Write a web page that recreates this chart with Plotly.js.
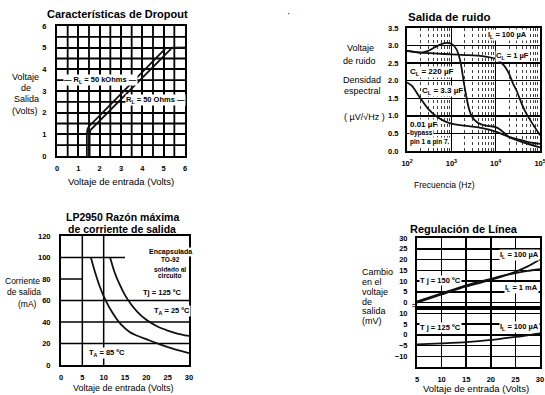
<!DOCTYPE html>
<html><head><meta charset="utf-8">
<script src="https://cdn.plot.ly/plotly-3.0.1.min.js"></script>
<style>html,body{margin:0;padding:0;background:#fff;}#chart{width:545px;height:395px;}</style>
</head><body><div id="chart"></div>
<script>
// ---------------- data ----------------
// Características de Dropout
const dropVin50k  = [1.40, 1.40, 1.44, 1.55, 2.0, 3.0, 4.0, 5.1, 6.0];
const dropVout50k = [0,    1.05, 1.28, 1.42, 1.86, 2.86, 3.86, 4.98, 5.0];
const dropVin50   = [1.53, 1.53, 1.57, 1.72, 2.0, 3.0, 4.0, 5.0, 5.4, 6.0];
const dropVout50  = [0,    1.0,  1.2,  1.35, 1.6, 2.6, 3.6, 4.6, 5.0, 5.0];
const dropHalfGrid = [0.5, 1.5, 2.5, 3.5, 4.5, 5.5];

// Salida de ruido
const freqC1   = [100, 200, 500, 1000, 2000, 5000, 10000, 15000, 20000, 25000, 30000, 40000, 50000, 70000, 100000];
const noiseC1  = [2.85, 2.8, 2.77, 2.75, 2.73, 2.7, 2.62, 2.45, 2.2, 1.9, 1.7, 1.3, 1.05, 0.75, 0.45];
const freqC220  = [100, 150, 200, 300, 500, 700, 1000, 1300, 1600, 2000, 2500, 3000, 4000, 6000, 8000, 10000, 13000, 20000, 40000, 100000];
const noiseC220 = [2.85, 2.82, 2.8, 2.85, 3.0, 3.07, 3.05, 2.9, 2.55, 1.8, 1.2, 0.95, 0.8, 0.72, 0.7, 0.68, 0.6, 0.4, 0.25, 0.1];
const freqByp  = [100, 130, 200, 300, 500, 700, 1000, 2000, 5000, 10000, 20000, 50000, 100000];
const noiseByp = [1.95, 1.85, 1.5, 1.2, 0.95, 0.85, 0.78, 0.72, 0.65, 0.55, 0.4, 0.27, 0.2];
const noiseTickVals = [100, 1000, 10000, 100000];
const noiseTickText = ['10<sup>2</sup>', '10<sup>3</sup>', '10<sup>4</sup>', '10<sup>5</sup>'];

// LP2950 Razón máxima de corriente de salida
const lpVin85 = [7, 8, 9, 10, 11, 12, 13, 14, 16, 18, 20, 23, 26, 30];
const lpI85   = [100, 86, 74, 64, 56, 49, 43, 38, 31, 27, 24, 19.5, 15.5, 11];
const lpVin25 = [11.5, 12.5, 13.5, 15, 16.5, 18, 20, 22.5, 25, 27.5, 30];
const lpI25   = [100, 87, 77, 65, 56, 49, 42, 36, 32, 29, 27];

// Regulación de Línea
const regVin       = [5, 10, 15, 20, 22.5, 25, 27.5, 30];
const reg150_100uA = [0, 3.8, 7.5, 10.5, 12.3, 14.3, 16.8, 20];
const reg150_1mA   = [0.5, 4.3, 8, 11, 12.5, 13.7, 14.7, 15.5];
const reg125_100uA = [-4.5, -4, -3.4, -2.4, -1.7, -1, -0.2, 0.8];

// ---------------- layout helpers ----------------
const W = 545, H = 395;
const fx = p => p / W;
const fy = p => 1 - p / H;
const FONT = 'Liberation Sans, Arial, sans-serif';

function ax(extra) {
  return Object.assign({
    showline: true, mirror: true, linecolor: '#000', linewidth: 2,
    showgrid: true, gridcolor: '#000', gridwidth: 1.5,
    zeroline: false, ticks: '', fixedrange: true, ticklabeloverflow: 'allow',
    tickfont: {family: FONT, size: 7.5, color: '#000', weight: 'bold'}
  }, extra);
}

function tr(x, y, xa, ya, smooth) {
  return {x, y, xaxis: xa, yaxis: ya, mode: 'lines', hoverinfo: 'skip',
          line: smooth ? {color: '#111', width: 1.8, shape: 'spline', smoothing: 0.6} : {color: '#111', width: 1.8}};
}

const traces = [
  tr(dropVin50k, dropVout50k, 'x', 'y', false),
  tr(dropVin50, dropVout50, 'x', 'y', false),
  tr(freqC1, noiseC1, 'x2', 'y2', true),
  tr(freqC220, noiseC220, 'x2', 'y2', true),
  tr(freqByp, noiseByp, 'x2', 'y2', true),
  tr(lpVin85, lpI85, 'x3', 'y3', true),
  tr(lpVin25, lpI25, 'x3', 'y3', true),
  tr(regVin, reg150_100uA, 'x5', 'y5', true),
  tr(regVin, reg150_1mA, 'x5', 'y5', true),
  tr(regVin, reg125_100uA, 'x4', 'y4', true)
];

// paper-pixel annotation helper
function ann(text, x, y, size, o) {
  return Object.assign({
    text, x: fx(x), y: fy(y), xref: 'paper', yref: 'paper', showarrow: false,
    xanchor: 'center', yanchor: 'middle',
    font: {family: FONT, size: size, color: '#000'}
  }, o || {});
}
const B = (text, x, y, size, o) => ann(text, x, y, size, Object.assign({font: {family: FONT, size: size, color: '#000', weight: 'bold'}}, o || {}));
const BOX = {bgcolor: '#fff', borderpad: 0};
const L = o => Object.assign({xanchor: 'left'}, BOX, o || {});

const annotations = [
  // Titles
  B('Características de Dropout', 117, 14, 11),
  B('Salida de ruido', 449, 17, 11.5),
  B('LP2950 Razón máxima', 122, 217, 10.5),
  B('de corriente de salida', 122, 229, 10.5),
  B('Regulación de Línea', 464, 229, 11),
  // Dropout axis titles
  ann('Voltaje', 25, 77, 9), ann('de', 26, 88, 9), ann('Salida', 26, 99, 9), ann('(Volts)', 25, 111, 9),
  ann('Voltaje de entrada (Volts)', 121, 181, 9.5),
  // Noise axis titles
  ann('Voltaje', 360, 48, 9), ann('de ruido', 359, 61, 9),
  ann('Densidad', 362, 80, 9), ann('espectral', 362, 91, 9),
  ann('( µV/√Hz )', 364, 117, 9),
  ann('Frecuencia (Hz)', 444, 185, 8.5),
  // LP2950 axis titles
  ann('Corriente', 22, 281, 8.5), ann('de salida', 24, 292, 8.5), ann('(mA)', 27, 304, 8.5),
  ann('Voltaje de entrada (Volts)', 123, 388, 9),
  // Regulación axis titles
  ann('Cambio', 360, 272, 9, {xanchor: 'left'}), ann('en el', 360, 282, 9, {xanchor: 'left'}),
  ann('voltaje', 360, 292, 9, {xanchor: 'left'}), ann('de', 360, 302, 9, {xanchor: 'left'}),
  ann('salida', 360, 311, 9, {xanchor: 'left'}), ann('(mV)', 360, 321, 9, {xanchor: 'left'}),
  ann('Voltaje de entrada (Volts)', 476, 388, 9.5),
  // stray mark
  ann('·', 288, 14, 10),
  // Dropout labels
  B('— R<sub>L</sub> = 50 kOhms —', 100, 80, 7.5, BOX),
  B('R<sub>L</sub> = 50 Ohms —', 155, 100, 7.5, BOX),
  // Noise labels
  B('I<sub>L</sub> = 100 µA', 507, 35, 7.5, BOX),
  B('C<sub>L</sub> = 1 µF', 512, 56, 7.5, BOX),
  B('C<sub>L</sub> = 220 µF', 409, 72, 8, L()),
  B('C<sub>L</sub> = 3.3 µF', 421, 91, 8, L()),
  B('0.01 µF', 409, 124, 8, L()),
  B('bypass', 409, 133, 6.5, L()),
  B('pin 1 a pin 7.', 409, 142, 6.5, L()),
  // LP2950 labels
  B('Encapsulada', 170, 252, 7, BOX),
  B('TO-92', 170, 259, 6.5, BOX),
  B('soldado al', 170, 269, 6.5, BOX),
  B('circuito', 170, 275, 6.5, BOX),
  B('Tj = 125 ºC', 162, 292, 7.5, BOX),
  B('T<sub>A</sub> = 25 ºC', 172, 311, 7.5, BOX),
  B('T<sub>A</sub> = 85 ºC', 107, 353, 7.5, BOX),
  // Regulación labels
  B('T j = 150 ºC', 440, 280, 7.5, BOX),
  B('I<sub>L</sub> = 100 µA', 519, 255, 7.5, BOX),
  B('I<sub>L</sub> = 1 mA', 521, 288, 7.5, BOX),
  B('T j = 125 ºC', 440, 327, 7.5, BOX),
  B('I<sub>L</sub> = 100 µA', 519, 327, 7.5, BOX),
  ann('≈', 415, 305, 10)
];

const shapes = [];
// Dropout half-unit grid lines
dropHalfGrid.forEach(v => {
  shapes.push({type: 'line', xref: 'x', yref: 'y', x0: v, x1: v, y0: 0, y1: 6, layer: 'below', line: {color: '#000', width: 1.8}});
  shapes.push({type: 'line', xref: 'x', yref: 'y', x0: 0, x1: 6, y0: v, y1: v, layer: 'below', line: {color: '#000', width: 1.8}});
});
// LP2950 grid segments (only the visible grid pieces of the original)
const lpGridV = [5, 10];
const lpGridH = [[20, 30], [40, 30], [60, 30], [80, 5], [100, 15]];
lpGridV.forEach(v => shapes.push({type: 'line', xref: 'x3', yref: 'y3', x0: v, x1: v, y0: 0, y1: 120, layer: 'below', line: {color: '#000', width: 1.5}}));
lpGridH.forEach(h => shapes.push({type: 'line', xref: 'x3', yref: 'y3', x0: 0, x1: h[1], y0: h[0], y1: h[0], layer: 'below', line: {color: '#000', width: 1.5}}));

const layout = {
  width: W, height: H, margin: {l: 0, r: 0, t: 0, b: 0},
  paper_bgcolor: '#fff', plot_bgcolor: '#fff', showlegend: false,
  font: {family: FONT, color: '#000'},
  // Dropout
  xaxis: ax({domain: [fx(57), fx(185)], anchor: 'y', range: [0, 6], dtick: 1, tick0: 0, gridwidth: 1.8, ticklabelstandoff: 4}),
  yaxis: ax({domain: [fy(156), fy(26)], anchor: 'x', range: [0, 6], dtick: 1, tick0: 0, gridwidth: 1.8, ticklabelstandoff: 7}),
  // Noise
  xaxis2: ax({type: 'log', domain: [fx(407), fx(540)], anchor: 'y2', range: [2, 5], tickvals: noiseTickVals, ticktext: noiseTickText, gridwidth: 1.4,
    minor: {dtick: 'D1', showgrid: true, gridcolor: '#444', griddash: 'dot', gridwidth: 1}, ticklabelstandoff: 4}),
  yaxis2: ax({domain: [fy(151), fy(28)], anchor: 'x2', range: [0, 3.5], dtick: 0.5, tickformat: '.1f', ticklabelstandoff: 5}),
  // LP2950
  xaxis3: ax({domain: [fx(61), fx(189)], anchor: 'y3', range: [0, 30], dtick: 5, tick0: 0, showgrid: false, ticklabelstandoff: 4}),
  yaxis3: ax({domain: [fy(365), fy(236)], anchor: 'x3', range: [0, 120], dtick: 20, tick0: 0, showgrid: false, ticklabelstandoff: 7}),
  // Regulación (lower panel + shared x ticks)
  xaxis4: ax({domain: [fx(417), fx(540)], anchor: 'y4', range: [5, 30], dtick: 5, tick0: 5, ticklabelstandoff: 4}),
  yaxis4: ax({domain: [fy(367), fy(308)], anchor: 'x4', range: [-15, 12.5], tickvals: [-10, -5, 0, 5, 10], ticklabelstandoff: 6}),
  // Regulación (upper panel)
  xaxis5: ax({domain: [fx(417), fx(540)], anchor: 'y5', matches: 'x4', range: [5, 30], dtick: 5, tick0: 5, showticklabels: false}),
  yaxis5: ax({domain: [fy(308), fy(238)], anchor: 'x5', range: [-2.5, 30], dtick: 5, tick0: 0, ticklabelstandoff: 6}),
  annotations, shapes
};

Plotly.newPlot('chart', traces, layout, {staticPlot: true, displayModeBar: false});
</script>
</body></html>
